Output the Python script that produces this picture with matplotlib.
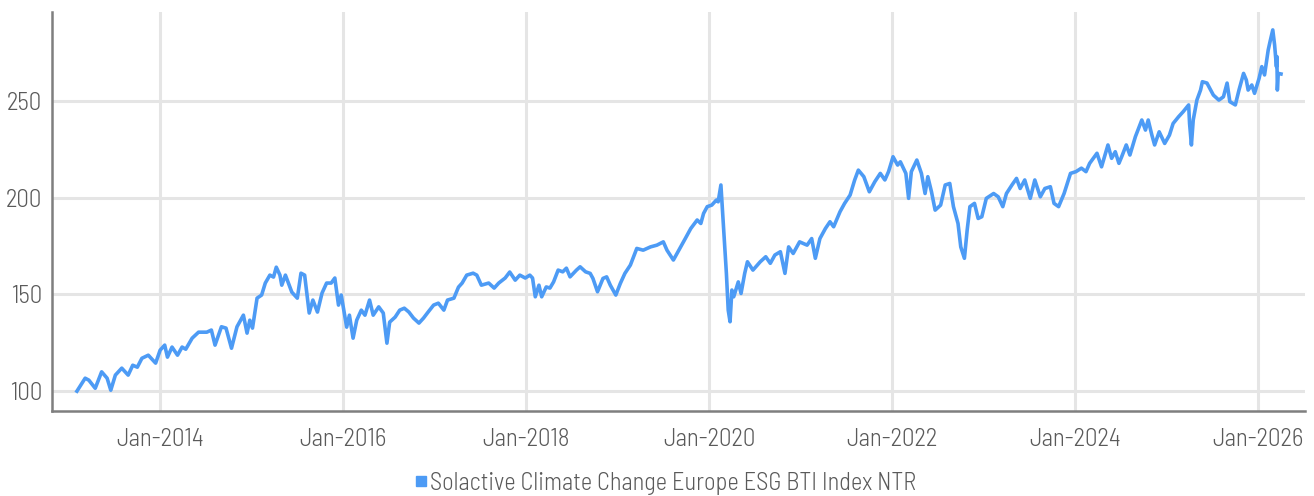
import datetime as dt
import matplotlib
matplotlib.use("Agg")
import matplotlib.pyplot as plt
import matplotlib.dates as mdates
from matplotlib.lines import Line2D

# index level, x in decimal years
years = [
    2013.09, 2013.18, 2013.22, 2013.29, 2013.36, 2013.42, 2013.46, 2013.51, 2013.58, 2013.65,
    2013.70, 2013.75, 2013.80, 2013.87, 2013.95, 2014.00, 2014.05, 2014.08, 2014.13, 2014.19,
    2014.24, 2014.28, 2014.35, 2014.42, 2014.51, 2014.56, 2014.60, 2014.67, 2014.72, 2014.78,
    2014.84, 2014.91, 2014.95, 2014.98, 2015.01, 2015.06, 2015.11, 2015.15, 2015.20, 2015.24,
    2015.27, 2015.31, 2015.33, 2015.37, 2015.44, 2015.50, 2015.54, 2015.58, 2015.63, 2015.67,
    2015.72, 2015.77, 2015.82, 2015.87, 2015.91, 2015.95, 2015.98, 2016.04, 2016.07, 2016.11,
    2016.15, 2016.20, 2016.24, 2016.29, 2016.33, 2016.39, 2016.44, 2016.48, 2016.51, 2016.57,
    2016.62, 2016.67, 2016.72, 2016.77, 2016.83, 2016.88, 2016.93, 2016.99, 2017.04, 2017.10,
    2017.14, 2017.21, 2017.26, 2017.30, 2017.35, 2017.42, 2017.46, 2017.51, 2017.59, 2017.65,
    2017.70, 2017.77, 2017.82, 2017.88, 2017.93, 2017.99, 2018.04, 2018.07, 2018.10, 2018.14,
    2018.17, 2018.22, 2018.26, 2018.30, 2018.35, 2018.40, 2018.44, 2018.48, 2018.55, 2018.59,
    2018.65, 2018.70, 2018.73, 2018.78, 2018.84, 2018.88, 2018.92, 2018.98, 2019.03, 2019.08,
    2019.14, 2019.21, 2019.28, 2019.36, 2019.43, 2019.50, 2019.54, 2019.61, 2019.69, 2019.74,
    2019.80, 2019.87, 2019.91, 2019.94, 2019.98, 2020.03, 2020.08, 2020.10, 2020.13, 2020.16,
    2020.17, 2020.19, 2020.21, 2020.23, 2020.25, 2020.27, 2020.32, 2020.35, 2020.39, 2020.42,
    2020.48, 2020.56, 2020.62, 2020.67, 2020.72, 2020.78, 2020.83, 2020.87, 2020.92, 2020.99,
    2021.07, 2021.12, 2021.16, 2021.21, 2021.27, 2021.32, 2021.36, 2021.43, 2021.48, 2021.54,
    2021.59, 2021.63, 2021.69, 2021.75, 2021.81, 2021.87, 2021.92, 2021.96, 2022.01, 2022.06,
    2022.09, 2022.15, 2022.18, 2022.21, 2022.27, 2022.32, 2022.36, 2022.39, 2022.43, 2022.47,
    2022.53, 2022.58, 2022.63, 2022.67, 2022.72, 2022.75, 2022.79, 2022.82, 2022.85, 2022.90,
    2022.94, 2022.98, 2023.03, 2023.11, 2023.16, 2023.21, 2023.25, 2023.31, 2023.36, 2023.40,
    2023.45, 2023.51, 2023.56, 2023.62, 2023.67, 2023.73, 2023.77, 2023.82, 2023.88, 2023.95,
    2024.01, 2024.07, 2024.12, 2024.16, 2024.24, 2024.29, 2024.36, 2024.40, 2024.44, 2024.48,
    2024.51, 2024.56, 2024.60, 2024.66, 2024.73, 2024.77, 2024.80, 2024.84, 2024.87, 2024.92,
    2024.98, 2025.03, 2025.07, 2025.13, 2025.18, 2025.24, 2025.25, 2025.27, 2025.29, 2025.33,
    2025.37, 2025.39, 2025.44, 2025.51, 2025.57, 2025.62, 2025.66, 2025.69, 2025.75, 2025.79,
    2025.84, 2025.87, 2025.89, 2025.93, 2025.96, 2026.01, 2026.04, 2026.07, 2026.11, 2026.13,
    2026.16, 2026.18, 2026.20, 2026.205, 2026.21, 2026.22, 2026.25,
]
values = [
    100.0, 106.7, 105.7, 101.5, 110.0, 106.7, 100.5, 108.3, 111.9, 108.3,
    113.4, 112.4, 117.0, 118.6, 114.5, 121.2, 123.8, 117.6, 122.8, 118.6,
    122.8, 121.7, 127.4, 130.5, 130.5, 131.6, 123.8, 133.3, 132.6, 122.2,
    133.3, 139.3, 130.0, 136.7, 132.6, 148.1, 149.7, 155.9, 160.0, 159.0,
    164.1, 160.0, 154.8, 160.0, 151.2, 148.1, 161.0, 160.0, 140.4, 147.1,
    140.9, 150.7, 155.9, 155.9, 158.5, 144.5, 149.7, 133.1, 139.3, 127.4,
    136.7, 141.9, 139.3, 147.1, 139.3, 143.6, 140.4, 124.8, 135.7, 138.3,
    141.9, 142.9, 140.9, 137.8, 135.2, 137.8, 140.9, 144.5, 145.5, 141.9,
    147.1, 148.1, 153.8, 155.9, 160.0, 161.0, 160.0, 154.8, 155.9, 153.3,
    155.9, 158.5, 161.6, 157.4, 160.0, 158.5, 160.0, 158.5, 148.8, 154.8,
    148.8, 153.9, 153.3, 156.5, 162.6, 161.7, 163.6, 159.1, 162.6, 164.3,
    161.7, 160.9, 158.3, 151.4, 158.3, 159.1, 154.8, 149.7, 155.7, 160.9,
    165.2, 173.8, 172.9, 174.6, 175.5, 177.2, 172.9, 167.8, 174.6, 178.9,
    184.1, 188.5, 186.7, 191.9, 195.4, 196.2, 198.8, 197.9, 206.6, 183.3,
    176.4, 160.9, 141.9, 135.9, 152.3, 148.8, 156.5, 150.5, 160.9, 166.9,
    162.6, 166.9, 169.5, 166.1, 170.4, 172.1, 160.9, 174.6, 171.2, 177.2,
    175.5, 178.9, 168.7, 178.9, 184.1, 187.6, 185.0, 192.8, 197.1, 201.4,
    209.2, 214.3, 210.9, 203.1, 208.3, 212.6, 209.2, 213.5, 221.2, 216.9,
    218.6, 212.6, 199.7, 213.5, 219.5, 212.6, 202.2, 210.9, 203.1, 193.6,
    196.2, 206.6, 207.4, 195.4, 186.7, 174.6, 168.7, 183.3, 195.4, 197.1,
    189.3, 190.2, 199.7, 202.2, 200.5, 195.4, 202.2, 206.6, 210.0, 204.8,
    209.2, 199.7, 209.2, 200.5, 204.8, 205.7, 197.1, 195.4, 202.2, 212.6,
    213.5, 215.3, 213.5, 217.8, 223.0, 216.0, 227.3, 220.4, 223.8, 217.8,
    221.2, 227.3, 222.1, 231.6, 240.2, 235.0, 240.2, 232.4, 227.3, 234.1,
    228.1, 232.4, 238.4, 241.9, 244.5, 248.0, 238.4, 227.3, 240.2, 250.5,
    255.7, 260.0, 259.3, 253.1, 250.5, 252.2, 259.3, 249.7, 248.0, 255.7,
    264.3, 260.9, 255.7, 258.3, 254.0, 261.7, 267.8, 263.5, 276.4, 280.7,
    286.8, 279.0, 267.8, 273.0, 255.7, 264.3, 264.0,
]
series_name = "Solactive Climate Change Europe ESG BTI Index NTR"
y_ticks = [100, 150, 200, 250]
x_tick_years = [2014, 2016, 2018, 2020, 2022, 2024, 2026]


def to_date(y):
    start = dt.datetime(int(y), 1, 1)
    return start + dt.timedelta(days=(y - int(y)) * 365.25)


dates = [to_date(y) for y in years]

plt.rcParams["font.family"] = ["Barlow Semi Condensed", "Roboto Condensed", "DejaVu Sans"]
plt.rcParams["font.weight"] = 300

blue = "#4d9bf5"
grey_text = "#5a5a5a"

fig = plt.figure(figsize=(13.14, 4.96), dpi=100)
ax = fig.add_axes([0.0396, 0.171, 0.9534, 0.805])

ax.plot(dates, values, color=blue, lw=2.6, solid_joinstyle="round")

ax.set_xlim(to_date(2012.82), to_date(2026.51))
ax.set_ylim(89.65, 296.1)
ax.set_yticks(y_ticks)
ax.set_xticks([dt.datetime(y, 1, 1) for y in x_tick_years])
ax.xaxis.set_major_formatter(mdates.DateFormatter("%b-%Y"))

ax.grid(True, color="#e5e5e5", lw=2.2)
ax.set_axisbelow(True)
ax.tick_params(length=0, labelsize=18, labelcolor=grey_text, pad=7)
ax.tick_params(axis="x", pad=12)

for side in ["top", "right"]:
    ax.spines[side].set_visible(False)
for side in ["left", "bottom"]:
    ax.spines[side].set_color("#7f7f7f")
    ax.spines[side].set_linewidth(1.8)

handle = Line2D([], [], ls="none", marker="s", markersize=7, color=blue)
fig.legend([handle], [series_name], loc="lower center", bbox_to_anchor=(0.506, -0.042),
           frameon=False, fontsize=17.6, labelcolor=grey_text, handletextpad=0.05,
           handlelength=0.6)

fig.savefig("out.png", dpi=100)
